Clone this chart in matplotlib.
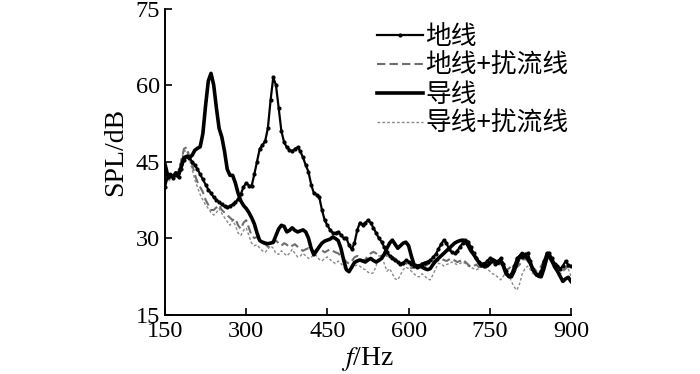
import numpy as np
import matplotlib.pyplot as plt

plt.rcParams['font.family'] = ['Liberation Serif', 'DejaVu Serif']
plt.rcParams['mathtext.fontset'] = 'stix'

# frequency grid (Hz), 5 Hz step
freq = np.arange(150, 901, 5)

# SPL (dB)
ground = [
    40.0, 42.0, 42.2, 41.8, 42.3, 42.0, 43.5, 45.3, 46.0, 45.7,
    45.0, 44.3, 43.5, 42.5, 41.5, 40.5, 39.5, 38.8, 38.0, 37.5,
    37.0, 36.6, 36.2, 36.0, 36.3, 36.6, 37.0, 37.6, 38.6, 40.0,
    40.8, 40.3, 40.2, 42.5, 45.0, 47.5, 48.2, 49.0, 51.5, 57.0,
    61.5, 60.0, 55.5, 51.0, 48.8, 47.8, 47.3, 47.0, 47.5, 47.8,
    47.0, 45.8, 44.3, 43.0, 40.5, 38.8, 38.5, 38.0, 35.5, 33.5,
    32.5, 31.6, 31.0, 31.0, 31.2, 30.6, 30.0, 30.0, 28.6, 27.8,
    29.0, 31.5, 33.0, 32.6, 33.0, 33.5, 33.0, 32.0, 31.0, 30.0,
    29.3, 28.2, 27.3, 26.5, 26.0, 25.6, 25.3, 25.0, 25.2, 25.6,
    25.4, 25.0, 24.6, 24.4, 24.6, 25.0, 25.2, 25.4, 25.6, 26.2,
    26.8, 27.8, 28.8, 29.6, 29.0, 27.8, 27.2, 27.0, 27.5, 28.3,
    29.0, 29.6, 29.3, 28.2, 27.0, 26.0, 25.3, 25.0, 24.5, 25.5,
    26.0, 25.5, 25.0, 25.5, 26.0, 25.0, 23.5, 22.5, 23.0, 24.5,
    26.0, 26.5, 26.3, 26.8, 27.0, 25.5, 24.0, 23.0, 22.8, 23.5,
    25.5, 27.0, 27.0, 26.0, 25.0, 24.5, 24.0, 24.5, 25.5, 24.7,
    24.5,
]

ground_spoiler = [
    42.5, 41.5, 41.8, 42.0, 42.5, 43.0, 45.0, 47.5, 47.8, 46.0,
    44.5, 42.5, 41.0, 40.0, 39.0, 37.5, 36.5, 35.5, 35.5, 36.0,
    36.5, 35.5, 35.0, 34.5, 34.0, 33.5, 33.8, 32.5, 31.8, 33.0,
    33.5, 32.0, 30.5, 30.0, 30.2, 29.5, 29.0, 28.8, 28.3, 28.5,
    29.0, 29.5, 29.0, 28.5, 29.0, 28.7, 28.2, 28.5, 28.8, 28.3,
    27.8, 27.5, 27.8, 28.0, 27.5, 27.3, 27.8, 28.0, 27.6, 27.2,
    27.5, 27.8, 27.5, 27.2, 27.0, 26.5, 26.0, 25.3, 25.0, 25.5,
    26.2, 26.5, 26.0, 25.5, 25.8, 26.5, 27.0, 27.3, 27.0, 26.5,
    26.5, 26.8, 26.5, 26.0, 26.3, 26.0, 25.5, 25.0, 24.8, 25.2,
    24.6, 24.1, 24.3, 24.8, 25.0, 24.8, 24.5, 24.8, 25.2, 25.5,
    25.3, 25.6, 26.0, 25.7, 25.5, 25.8, 26.0, 25.6, 25.3, 25.5,
    25.8, 25.3, 24.8, 24.3, 24.5, 24.8, 24.3, 24.6, 25.0, 25.4,
    25.0, 24.5, 24.8, 25.2, 24.7, 24.2, 23.8, 24.0, 24.5, 24.2,
    24.3, 24.8, 25.5, 26.0, 25.5, 24.8, 24.0, 23.5, 23.8, 24.5,
    25.5, 26.5, 26.0, 25.0, 24.5, 24.3, 24.0, 23.5, 24.0, 24.5,
    24.0,
]

conductor = [
    44.5, 42.3, 42.5, 42.0, 42.8, 42.5, 44.0, 45.8, 46.0, 45.8,
    46.2, 47.2, 47.6, 47.9, 50.5, 56.0, 60.8, 62.3, 60.0, 55.5,
    51.5, 49.8, 47.0, 43.5, 42.3, 42.3, 40.8, 38.8, 37.3, 36.4,
    35.8, 35.0, 34.0, 32.8, 31.0, 29.5, 29.2, 29.0, 28.9, 29.0,
    29.2, 30.5, 31.8, 32.5, 32.3, 31.2, 31.5, 32.0, 31.5, 31.2,
    31.4, 31.6, 31.2, 30.0, 28.0, 26.7, 27.5, 28.3, 29.0, 29.4,
    29.6, 29.8, 30.2, 29.9, 29.5, 28.0, 25.7, 23.8, 23.4, 24.3,
    25.2, 25.5, 25.7, 25.5, 25.3, 25.7, 26.0, 25.6, 25.3, 25.6,
    26.0, 26.8, 28.0, 29.0, 29.6, 28.8, 28.0, 28.5, 29.0, 29.2,
    28.5, 26.5, 24.8, 24.5, 24.6, 24.3, 24.0, 23.8, 24.0, 24.8,
    25.5, 26.0, 26.5, 27.0, 27.5, 28.0, 28.5, 29.0, 29.3, 29.5,
    29.6, 29.4, 28.5, 27.5, 26.8, 26.0, 25.2, 24.5, 25.0, 24.5,
    25.0, 25.8, 25.5, 25.0, 25.7, 24.5, 23.0, 22.5, 22.4, 23.5,
    25.0, 26.3, 27.0, 26.5, 26.0, 25.0, 23.7, 23.0, 22.5, 22.4,
    24.0, 26.0, 26.5, 25.5, 24.3, 23.5, 22.5, 21.5, 22.0, 22.3,
    21.5,
]

conductor_spoiler = [
    41.5, 41.0, 41.5, 41.8, 42.5, 43.5, 45.5, 47.0, 47.2, 45.5,
    43.5, 41.5, 40.0, 38.5, 37.5, 36.5, 35.8, 35.0, 34.5, 35.0,
    35.8, 34.8, 34.0, 33.2, 32.5, 33.5, 32.5, 31.0, 30.5, 31.5,
    32.0, 30.5, 29.0, 28.5, 28.7, 28.0, 27.5, 27.2, 27.8, 28.5,
    28.0, 27.0, 26.8, 27.5, 27.0, 26.5, 27.0, 27.8, 27.0, 26.3,
    26.5, 27.0, 26.5, 26.0, 26.2, 26.8, 26.5, 25.8, 25.5, 26.0,
    26.3, 25.8, 25.3, 25.0, 25.5, 25.0, 24.3, 23.8, 23.5, 24.0,
    24.5, 24.7, 24.5, 24.0, 23.8, 23.3, 23.0, 23.2, 24.5, 26.5,
    26.5, 25.0, 23.5, 24.0, 23.0, 22.0, 21.8, 22.8, 23.8, 24.3,
    24.0, 23.5, 23.0, 22.5, 22.4, 23.0, 22.5, 22.0, 21.8, 22.8,
    24.0, 25.0, 25.0, 24.5, 24.8, 25.0, 25.3, 25.0, 24.8, 25.0,
    25.3, 25.0, 24.5, 24.3, 24.0, 23.8, 24.0, 24.5, 24.2, 24.0,
    23.5, 23.0, 22.8, 22.3, 21.8, 22.5, 23.5, 22.8, 21.5, 20.4,
    19.8, 21.0, 23.0, 24.0, 24.5, 23.8, 23.0, 22.5, 23.0, 24.0,
    25.3, 26.3, 26.0, 25.0, 24.0, 23.5, 23.0, 23.5, 24.5, 24.0,
    22.5,
]

labels = ['地线', '地线+扰流线', '导线', '导线+扰流线']
xticks = [150, 300, 450, 600, 750, 900]
yticks = [15, 30, 45, 60, 75]

fig = plt.figure(figsize=(7, 3.74), dpi=100)
ax = fig.add_axes([0.2357, 0.159, 0.58, 0.818])

l1, = ax.plot(freq, ground, color='black', lw=1.6, marker='.', markersize=4, zorder=4)
l2, = ax.plot(freq, ground_spoiler, color='#6e6e6e', lw=1.5, ls=(0, (4, 2)), zorder=2)
l3, = ax.plot(freq, conductor, color='black', lw=2.6, zorder=3)
l4, = ax.plot(freq, conductor_spoiler, color='#8a8a8a', lw=1.0, ls=(0, (2, 1.5)), zorder=1)

ax.set_xlim(150, 900)
ax.set_ylim(15, 75)
ax.set_xticks(xticks)
ax.set_yticks(yticks)
ax.tick_params(direction='in', length=5, width=1.2, labelsize=17.5)
ax.tick_params(axis='x', pad=5)
for s in ['top', 'right']:
    ax.spines[s].set_visible(False)
for s in ['left', 'bottom']:
    ax.spines[s].set_linewidth(1.4)

ax.set_xlabel(r'$f$/Hz', fontsize=20)
ax.xaxis.set_label_coords(0.5, -0.1)
ax.set_ylabel('SPL/dB', fontsize=20)
ax.yaxis.set_label_coords(-0.09, 0.53)

leg = ax.legend([l1, l2, l3, l4], labels, loc='upper left',
                bbox_to_anchor=(0.477, 1.01), frameon=False, numpoints=1,
                prop={'family': ['Noto Sans CJK SC', 'DejaVu Sans'], 'size': 18.5},
                handlelength=1.8, handletextpad=0.08, labelspacing=0.12,
                borderaxespad=0.3)

fig.savefig('out.png', dpi=100)
